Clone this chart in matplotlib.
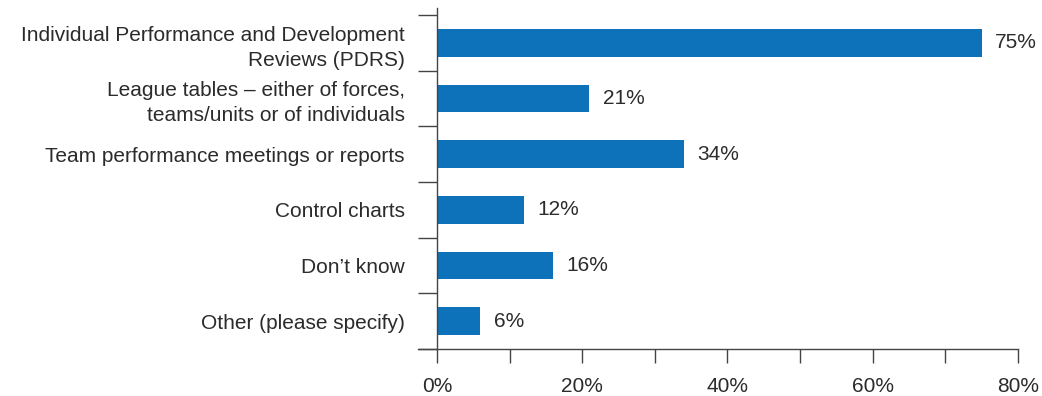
"""
Horizontal bar chart: performance management tools in use.
"""

import matplotlib
matplotlib.use("Agg")
import matplotlib.pyplot as plt
import numpy as np

CATEGORIES = [
    "Individual Performance and Development\nReviews (PDRS)",
    "League tables \u2013 either of forces,\nteams/units or of individuals",
    "Team performance meetings or reports",
    "Control charts",
    "Don\u2019t know",
    "Other (please specify)",
]
PERCENTAGES = [75, 21, 34, 12, 16, 6]
X_MAJOR = [0, 20, 40, 60, 80]
X_MINOR = [10, 30, 50, 70]

BAR_COLOR = "#0d72b9"
TEXT_COLOR = "#2b2b2b"
AXIS_COLOR = "#444444"
FONT_SIZE = 15

plt.rcParams["font.family"] = ["Liberation Sans", "DejaVu Sans"]

fig = plt.figure(figsize=(10.42, 3.96), dpi=100)
ax = fig.add_axes([418 / 1042, 47 / 396, 600 / 1042, 341 / 396])

y = np.arange(len(CATEGORIES))
ax.barh(y, PERCENTAGES, height=0.5, color=BAR_COLOR)

for yi, val in zip(y, PERCENTAGES):
    ax.text(val + 1.8, yi, f"{val}%", va="center", ha="left",
            fontsize=FONT_SIZE, color=TEXT_COLOR)

ax.set_xlim(-2.6, 80)
ax.set_ylim(len(CATEGORIES) - 0.5, -0.625)

# spines: y axis sits at x=0, bottom line runs a little past it
for side in ["top", "right"]:
    ax.spines[side].set_visible(False)
ax.spines["left"].set_position(("data", 0))
for side in ["left", "bottom"]:
    ax.spines[side].set_color(AXIS_COLOR)
    ax.spines[side].set_linewidth(1.0)

# x ticks: labelled every 20, unlabelled marks every 10
ax.set_xticks(X_MAJOR)
ax.set_xticklabels([f"{v}%" for v in X_MAJOR])
ax.set_xticks(X_MINOR, minor=True)
ax.tick_params(axis="x", which="both", direction="out", length=10,
               width=1.0, color=AXIS_COLOR, labelsize=FONT_SIZE,
               labelcolor=TEXT_COLOR, pad=10)

# y ticks: marks between categories, labels at centres
ax.set_yticks(np.arange(len(CATEGORIES) + 1) - 0.5)
ax.set_yticklabels([])
ax.tick_params(axis="y", which="major", direction="out", length=14,
               width=1.0, color=AXIS_COLOR)
ax.set_yticks(y, minor=True)
ax.set_yticklabels(CATEGORIES, minor=True, fontsize=FONT_SIZE,
                   color=TEXT_COLOR, linespacing=1.4)
ax.tick_params(axis="y", which="minor", length=0, pad=23)

fig.savefig("out.png", dpi=100)
